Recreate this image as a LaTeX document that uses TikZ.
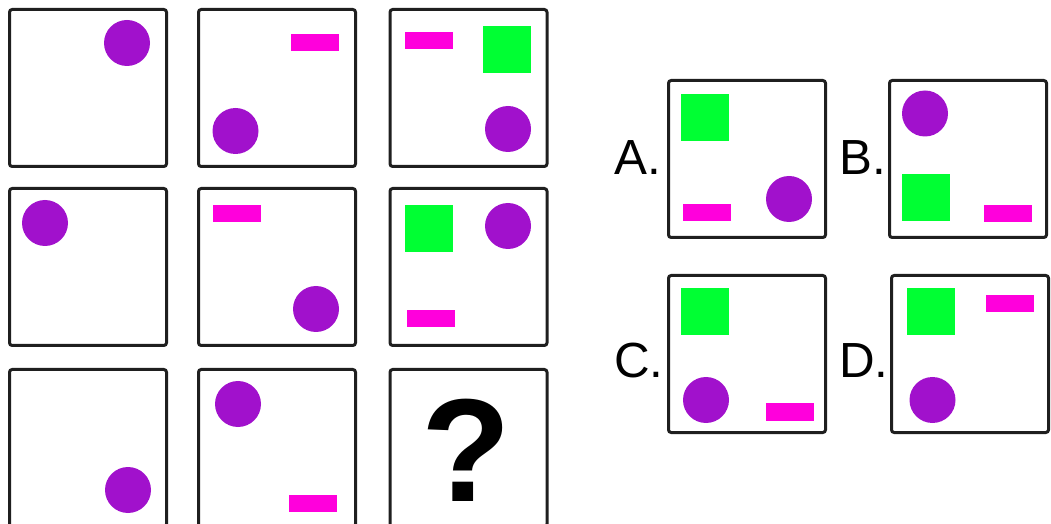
\documentclass[tikz,border=0pt]{standalone}
\usepackage{fontspec}
\setmainfont{Liberation Sans}
\usepackage{xcolor}
\usepackage{tikz}
\usetikzlibrary{positioning}
\definecolor{ballpurple}{RGB}{161,17,204}
\definecolor{stripmagenta}{RGB}{255,0,220}
\definecolor{tilegreen}{RGB}{0,255,51}
\tikzstyle{panel} = [rectangle, draw=black!88, line width=2.25pt, rounded corners=2pt, minimum size=117.75pt, inner sep=0pt]

\begin{document}
\begin{tikzpicture}[x=0.75pt,y=-0.75pt]
    \tikzstyle{ball} = [circle, fill=ballpurple, minimum size=34.5pt, inner sep=0pt]
    \tikzstyle{strip} = [rectangle, fill=stripmagenta, minimum width=36pt, minimum height=12.75pt, inner sep=0pt]
    \tikzstyle{tile} = [rectangle, fill=tilegreen, minimum width=36pt, minimum height=35.25pt, inner sep=0pt]
    \tikzstyle{choice} = [font=\fontsize{37}{37}\selectfont, anchor=base west, inner sep=0pt]
    \useasboundingbox (0,0) rectangle (1051,524);
    % the 3x3 matrix
    \node[panel] (p11) at (88,88) {};
    \node[panel] (p12) at (277,88) {};
    \node[panel] (p13) at (468.5,88) {};
    \node[panel] (p21) at (88,267) {};
    \node[panel] (p22) at (277,267) {};
    \node[panel] (p23) at (468.5,267) {};
    \node[panel] (p31) at (88,448) {};
    \node[panel] (p32) at (277,448) {};
    \node[panel] (p33) at (468.5,448) {};
    \node[ball] (b11) at (127,43) {};
    \node[strip] (s12) at (314.5,43) {};
    \node[ball] (b12) at (235.5,131) {};
    \node[strip] (s13) at (428.5,41) {};
    \node[tile] (t13) at (507,49.5) {};
    \node[ball] (b13) at (508,129) {};
    \node[ball] (b21) at (45,223) {};
    \node[strip] (s22) at (237,214) {};
    \node[ball] (b22) at (316,309) {};
    \node[tile] (t23) at (428.5,229) {};
    \node[ball] (b23) at (508,226) {};
    \node[strip] (s23) at (431,319) {};
    \node[ball] (b31) at (128,490) {};
    \node[ball] (b32) at (238,404) {};
    \node[strip] (s32) at (313,503) {};
    \node[font=\bfseries\fontsize{110}{110}\selectfont, inner sep=0pt] (qmark) at (466,450) {?};
    % answer choices
    \node[panel] (pa) at (747,159) {};
    \node[panel] (pb) at (968,159) {};
    \node[panel] (pc) at (747,354) {};
    \node[panel] (pd) at (970,354) {};
    \node[choice] (la) at (614,175) {A.};
    \node[choice] (lb) at (839,175) {B.};
    \node[choice] (lc) at (614,378) {C.};
    \node[choice] (ld) at (839,378) {D.};
    \node[tile] (ta) at (705,117.5) {};
    \node[strip] (sa) at (707,213) {};
    \node[ball] (ba) at (789,199) {};
    \node[ball] (bb) at (925,113.5) {};
    \node[tile] (tb) at (925.5,198) {};
    \node[strip] (sb) at (1008,213.5) {};
    \node[tile] (tc) at (705,311.5) {};
    \node[ball] (bc) at (706,400) {};
    \node[strip] (sc) at (789.5,412) {};
    \node[tile] (td) at (931,311.5) {};
    \node[strip] (sd) at (1010,303.5) {};
    \node[ball] (bd) at (932.5,400) {};
\end{tikzpicture}
\end{document}
